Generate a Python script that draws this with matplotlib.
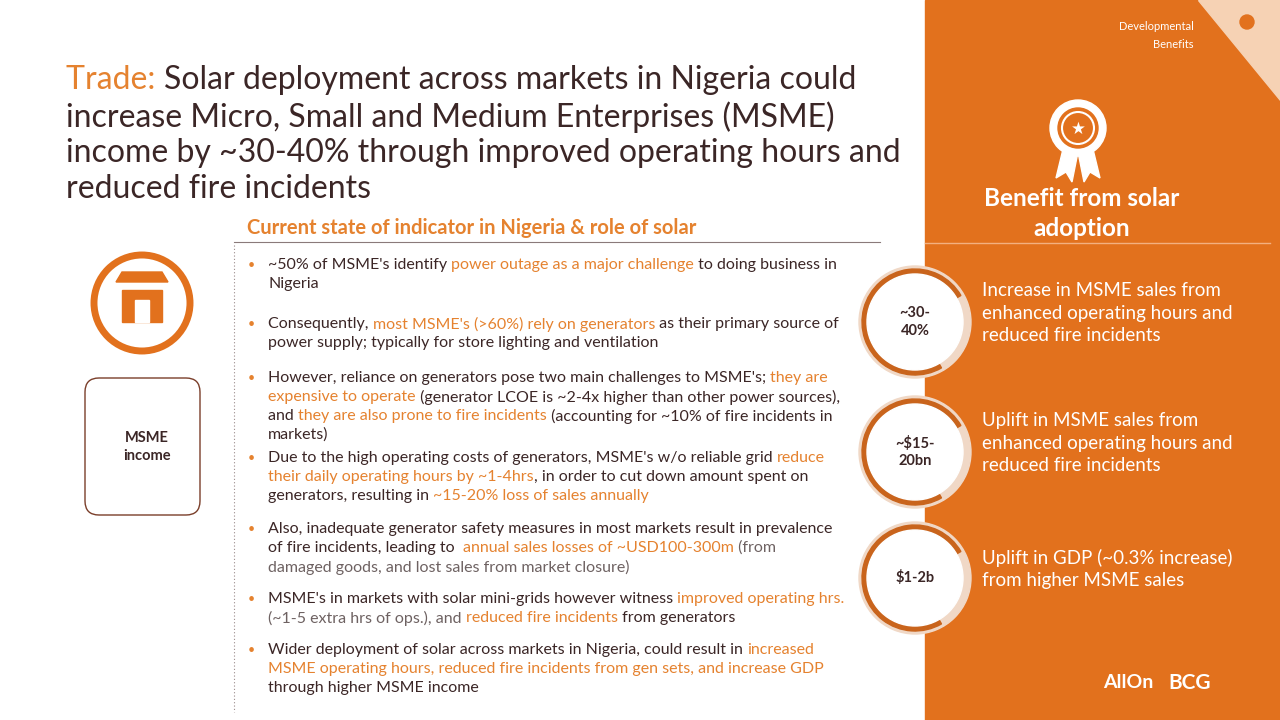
import matplotlib
matplotlib.use("Agg")
import matplotlib.pyplot as plt
from matplotlib.patches import Rectangle, Circle, FancyBboxPatch, Polygon, Wedge

ORANGE = "#E2711D"
OTXT = "#E5822F"
DARK = "#3B2626"
GRAY = "#6E6262"
FONT = ["Lato", "DejaVu Sans"]

title_lines = [
    [("Trade: ", OTXT), ("Solar deployment across markets in Nigeria could", DARK)],
    [("increase Micro, Small and Medium Enterprises (MSME)", DARK)],
    [("income by ~30-40% through improved operating hours and", DARK)],
    [("reduced fire incidents", DARK)],
]
title_y = [80, 117, 153, 189]

D, O, G = DARK, OTXT, GRAY
bullets = [
    [(265, [("~50% of MSME's identify ", D), ("power outage as a major challenge", O), (" to doing business in", D)]),
     (284, [("Nigeria", D)])],
    [(324, [("Consequently, ", D), ("most MSME's (>60%) rely on generators", O), (" as their primary source of", D)]),
     (343, [("power supply; typically for store lighting and ventilation", D)])],
    [(378, [("However, reliance on generators pose two main challenges to MSME's; ", D), ("they are", O)]),
     (397, [("expensive to operate", O), (" (generator LCOE is ~2-4x higher than other power sources),", D)]),
     (416, [("and ", D), ("they are also prone to fire incidents", O), (" (accounting for ~10% of fire incidents in", D)]),
     (435, [("markets)", D)])],
    [(458, [("Due to the high operating costs of generators, MSME's w/o reliable grid ", D), ("reduce", O)]),
     (477, [("their daily operating hours by ~1-4hrs", O), (", in order to cut down amount spent on", D)]),
     (496, [("generators, resulting in ", D), ("~15-20% loss of sales annually", O)])],
    [(529, [("Also, inadequate generator safety measures in most markets result in prevalence", D)]),
     (548, [("of fire incidents, leading to  ", D), ("annual sales losses of ~USD100-300m", O), (" (from", G)]),
     (567, [("damaged goods, and lost sales from market closure)", G)])],
    [(599, [("MSME's in markets with solar mini-grids however witness ", D), ("improved operating hrs.", O)]),
     (618, [("(~1-5 extra hrs of ops.), and ", G), ("reduced fire incidents", O), (" from generators", D)])],
    [(650, [("Wider deployment of solar across markets in Nigeria, could result in ", D), ("increased", O)]),
     (669, [("MSME operating hours, reduced fire incidents from gen sets, and increase GDP", O)]),
     (688, [("through higher MSME income", D)])],
]

benefit_values = ["~30-\n40%", "~$15-\n20bn", "$1-2b"]
benefit_y = [322, 452, 578]
benefit_text = [
    "Increase in MSME sales from\nenhanced operating hours and\nreduced fire incidents",
    "Uplift in MSME sales from\nenhanced operating hours and\nreduced fire incidents",
    "Uplift in GDP (~0.3% increase)\nfrom higher MSME sales",
]

fig = plt.figure(figsize=(12.8, 7.2), dpi=100)
ax = fig.add_axes([0, 0, 1, 1])
ax.set_xlim(0, 1280)
ax.set_ylim(720, 0)
ax.axis("off")
r = fig.canvas.get_renderer()


def segs(x, y, parts, size, weight="normal"):
    for txt, col in parts:
        t = ax.text(x, y, txt, color=col, fontsize=size, family=FONT, weight=weight, va="center")
        x += t.get_window_extent(r).width
    return x


# right panel
ax.add_patch(Rectangle((925, 0), 355, 720, color=ORANGE, zorder=0))
ax.add_patch(Polygon([[1198, 0], [1280, 0], [1280, 100]], color="#F6D2B4", zorder=1))
ax.text(1194, 27, "Developmental", color="white", fontsize=8, family=FONT, ha="right", va="center")
ax.text(1194, 44, "Benefits", color="white", fontsize=8, family=FONT, ha="right", va="center")
ax.add_patch(Circle((1247, 22), 7, color=ORANGE, zorder=2))

# ribbon icon
ax.add_patch(Polygon([[1064, 145], [1056, 178], [1066, 172], [1072, 182], [1078, 152]], color="white"))
ax.add_patch(Polygon([[1092, 145], [1100, 178], [1090, 172], [1084, 182], [1078, 152]], color="white"))
ax.add_patch(Circle((1078, 128), 28, color="white"))
ax.add_patch(Circle((1078, 128), 20, color=ORANGE))
ax.add_patch(Circle((1078, 128), 16, fill=False, ec="white", lw=1.5))
ax.text(1078, 129, "★", color="white", fontsize=12, ha="center", va="center", family="DejaVu Sans")

ax.text(1082, 199, "Benefit from solar", color="white", fontsize=17.5, weight="bold", family=FONT, ha="center", va="center")
ax.text(1082, 228, "adoption", color="white", fontsize=17.5, weight="bold", family=FONT, ha="center", va="center")
ax.plot([925, 1270], [243, 243], color="#F3B080", lw=1)

for val, yy, txt in zip(benefit_values, benefit_y, benefit_text):
    ax.add_patch(Wedge((915, yy), 56, 0, 360, width=8, color="#F0D8C6", zorder=3))
    ax.add_patch(Wedge((915, yy), 53, 60, 330, width=5, color="#C9641C", zorder=4))
    ax.add_patch(Circle((915, yy), 48, color="white", zorder=4))
    ax.text(915, yy, val, color=DARK, fontsize=10.5, weight="bold", family=FONT,
            ha="center", va="center", linespacing=1.3, zorder=5)
    ax.text(982, yy - 9, txt, color="white", fontsize=13.5, family=FONT,
            va="center", linespacing=1.38)

ax.text(1128, 683, "AllOn", color="white", fontsize=14, weight="bold", family=FONT, ha="center", va="center")
ax.text(1190, 683, "BCG", color="white", fontsize=15, weight="bold", family=FONT, ha="center", va="center")

# title
for yy, parts in zip(title_y, title_lines):
    segs(66, yy, parts, 23)

ax.text(247, 228, "Current state of indicator in Nigeria & role of solar", color=OTXT,
        fontsize=14.5, weight="bold", family=FONT, va="center")
ax.plot([234, 880], [242, 242], color="#8A7A7A", lw=0.8)
ax.plot([234, 234], [245, 712], color="#9A8A8A", lw=0.8, ls=(0, (1, 2)))

# left icon and box
ax.add_patch(Circle((142, 303), 48, fill=False, ec=ORANGE, lw=5))
ax.add_patch(Rectangle((122, 290), 40, 32, color=ORANGE))
ax.add_patch(Polygon([[116, 282], [168, 282], [162, 272], [122, 272]], color=ORANGE))
ax.add_patch(Rectangle((135, 300), 14, 22, color="white"))
ax.add_patch(FancyBboxPatch((85, 378), 115, 137, boxstyle="round,pad=0,rounding_size=14",
                            fc="white", ec="#7A3E2A", lw=1))
ax.text(147, 447, "MSME\nincome", color=DARK, fontsize=10.5, weight="bold", family=FONT,
        ha="center", va="center", linespacing=1.4)

# bullets
for b in bullets:
    ax.text(248, b[0][0], "•", color=OTXT, fontsize=9, va="center", family=FONT)
    for yy, parts in b:
        segs(268, yy, parts, 11.5)

fig.savefig("out.png", dpi=100)
